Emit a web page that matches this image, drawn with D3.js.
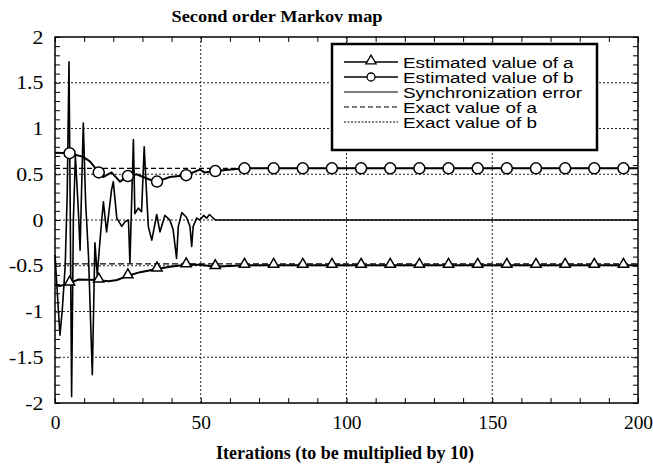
<!DOCTYPE html>
<html>
<head>
<meta charset="utf-8">
<script src="https://cdn.jsdelivr.net/npm/d3@7"></script>
<style>
body { margin: 0; background: #fff; }
</style>
</head>
<body>
<div id="chart"></div>
<script>
const width = 653;
const height = 470;

// x ticks / y ticks
const xMajor = [0, 50, 100, 150, 200];
const yMajor = [-2, -1.5, -1, -0.5, 0, 0.5, 1, 1.5, 2];
const yLabels = ["-2", "-1.5", "-1", "-0.5", "0", "0.5", "1", "1.5", "2"];

// estimated value of a (line + triangle markers)
const estA = [[0,-0.71],[1.7,-0.72],[5,-0.69],[8,-0.65],[14.4,-0.656],[18.4,-0.67],[21.3,-0.656],[25,-0.61],[29.2,-0.57],[35,-0.535],[39.4,-0.51],[45,-0.49],[49.7,-0.49],[55,-0.51],[65,-0.495],[200,-0.495]];
const markA = [[5,-0.69],[15,-0.656],[25,-0.61],[35,-0.535],[45,-0.49],[55,-0.51],[65,-0.495],[75,-0.495],[85,-0.495],[95,-0.495],[105,-0.495],[115,-0.495],[125,-0.495],[135,-0.495],[145,-0.495],[155,-0.495],[165,-0.495],[175,-0.495],[185,-0.495],[195,-0.495]];

// estimated value of b (line + circle markers)
const estB = [[0,0.735],[5,0.73],[9.7,0.69],[12,0.64],[15,0.52],[16.6,0.47],[19.4,0.52],[22.3,0.42],[25,0.48],[28,0.50],[32.6,0.44],[35,0.42],[39.4,0.47],[45,0.49],[49.7,0.55],[51.3,0.52],[55,0.535],[65,0.565],[200,0.565]];
const markB = [[5,0.73],[15,0.52],[25,0.48],[35,0.42],[45,0.49],[55,0.535],[65,0.565],[75,0.565],[85,0.565],[95,0.565],[105,0.565],[115,0.565],[125,0.565],[135,0.565],[145,0.565],[155,0.565],[165,0.565],[175,0.565],[185,0.565],[195,0.565]];

// synchronization error
const syncErr = [[0,-0.38],[1,-0.9],[1.7,-1.26],[2.5,-0.98],[3.5,-0.5],[4.2,0.3],[4.8,1.73],[5.2,0.2],[5.7,-1.93],[6.3,0.0],[7,0.7],[8,0.11],[8.6,-0.33],[9.7,1.06],[10.5,0.2],[11.5,-0.4],[12.8,-1.69],[13.7,-0.25],[14.5,-0.6],[15.5,-0.2],[16.6,0.2],[17.7,-0.13],[19.4,0.33],[20,0.42],[21.2,0.02],[22.9,-0.07],[24,-0.02],[25.2,0],[25.7,-0.47],[26.9,0.88],[27.4,0.07],[28.6,0.13],[29.7,0.09],[30.6,0.8],[32,-0.07],[33.2,-0.22],[34.9,0.06],[36,-0.13],[37.7,0.05],[39.4,0.0],[40.5,-0.1],[41.7,-0.42],[42.3,-0.07],[43.5,0.08],[45.1,0.03],[46.3,-0.07],[46.9,-0.29],[47.4,-0.07],[48.6,0.02],[49.7,0],[51,0.05],[52,0.02],[53,0.06],[54,0.03],[55,0],[200,0]];

// exact values
const exactA = -0.48;
const exactB = 0.565;

const legendItems = ["Estimated value of a", "Estimated value of b", "Synchronization error", "Exact value of a", "Exact value of b"];

const x = d3.scaleLinear().domain([0, 200]).range([55, 638]);
const y = d3.scaleLinear().domain([-2, 2]).range([403, 37]);

const svg = d3.select("#chart").append("svg")
    .attr("width", width)
    .attr("height", height)
    .style("font-family", "'Liberation Serif', 'Times New Roman', serif");

// grid
svg.append("g")
    .selectAll("line")
    .data(xMajor.slice(1, -1))
    .join("line")
    .attr("x1", d => x(d)).attr("x2", d => x(d))
    .attr("y1", y(2)).attr("y2", y(-2))
    .attr("stroke", "#222").attr("stroke-width", 1).attr("stroke-dasharray", "2,2");
svg.append("g")
    .selectAll("line")
    .data(yMajor.slice(1, -1))
    .join("line")
    .attr("x1", x(0)).attr("x2", x(200))
    .attr("y1", d => y(d)).attr("y2", d => y(d))
    .attr("stroke", "#222").attr("stroke-width", 1).attr("stroke-dasharray", "2,2");

// minor ticks inward on all sides
const tk = 5;
svg.append("g").attr("transform", `translate(0,${y(-2)})`)
    .call(d3.axisBottom(x).ticks(20).tickSize(-tk).tickFormat(""))
    .call(g => g.select(".domain").remove());
svg.append("g").attr("transform", `translate(0,${y(2)})`)
    .call(d3.axisTop(x).ticks(20).tickSize(-tk).tickFormat(""))
    .call(g => g.select(".domain").remove());
svg.append("g").attr("transform", `translate(${x(0)},0)`)
    .call(d3.axisLeft(y).ticks(40).tickSize(-tk).tickFormat(""))
    .call(g => g.select(".domain").remove());
svg.append("g").attr("transform", `translate(${x(200)},0)`)
    .call(d3.axisRight(y).ticks(40).tickSize(-tk).tickFormat(""))
    .call(g => g.select(".domain").remove());

// tick labels
svg.append("g").attr("transform", `translate(0,${y(-2)})`)
    .call(d3.axisBottom(x).tickValues(xMajor).tickSize(0).tickPadding(13).tickFormat(d3.format("d")))
    .call(g => g.select(".domain").remove())
    .call(g => g.selectAll("text")
        .attr("font-family", "'Liberation Serif', serif")
        .attr("font-size", 18.5)
        .attr("fill", "#000")
        .attr("transform", "scale(1.05,1)"));
svg.append("g").attr("transform", `translate(${x(0)},0)`)
    .call(d3.axisLeft(y).tickValues(yMajor).tickSize(0).tickPadding(10).tickFormat((d, i) => yLabels[i]))
    .call(g => g.select(".domain").remove())
    .call(g => g.selectAll("text")
        .attr("font-family", "'Liberation Serif', serif")
        .attr("font-size", 19)
        .attr("fill", "#000")
        .attr("transform", "scale(1.15,1)"));

// exact lines
svg.append("line")
    .attr("x1", x(0)).attr("x2", x(200))
    .attr("y1", y(exactA)).attr("y2", y(exactA))
    .attr("stroke", "#000").attr("stroke-width", 1.3).attr("stroke-dasharray", "6,3");
svg.append("line")
    .attr("x1", x(0)).attr("x2", x(200))
    .attr("y1", y(exactB)).attr("y2", y(exactB))
    .attr("stroke", "#000").attr("stroke-width", 1.3).attr("stroke-dasharray", "5,3");

const line = d3.line().x(d => x(d[0])).y(d => y(d[1]));

svg.append("path").datum(syncErr)
    .attr("d", line).attr("fill", "none")
    .attr("stroke", "#000").attr("stroke-width", 1.6).attr("stroke-linejoin", "round");
svg.append("path").datum(estA)
    .attr("d", line).attr("fill", "none")
    .attr("stroke", "#000").attr("stroke-width", 2);
svg.append("path").datum(estB)
    .attr("d", line).attr("fill", "none")
    .attr("stroke", "#000").attr("stroke-width", 2);

const tri = d3.symbol().type(d3.symbolTriangle).size(45);
svg.append("g").selectAll("path")
    .data(markA)
    .join("path")
    .attr("d", tri)
    .attr("transform", d => `translate(${x(d[0])},${y(d[1]) - 1})`)
    .attr("fill", "#fff").attr("stroke", "#000").attr("stroke-width", 1.5);
svg.append("g").selectAll("circle")
    .data(markB)
    .join("circle")
    .attr("cx", d => x(d[0])).attr("cy", d => y(d[1]))
    .attr("r", 5.5)
    .attr("fill", "#fff").attr("stroke", "#000").attr("stroke-width", 1.5);

// frame
svg.append("rect")
    .attr("x", x(0)).attr("y", y(2))
    .attr("width", x(200) - x(0)).attr("height", y(-2) - y(2))
    .attr("fill", "none").attr("stroke", "#000").attr("stroke-width", 1.5);

// legend
const lg = svg.append("g").attr("transform", "translate(332,44)");
lg.append("rect")
    .attr("width", 265).attr("height", 106)
    .attr("fill", "#fff").attr("stroke", "#000").attr("stroke-width", 2.5);
const rowH = 15;
const items = lg.selectAll("g.item")
    .data(legendItems)
    .join("g")
    .attr("class", "item")
    .attr("transform", (d, i) => `translate(0,${18 + i * rowH})`);
items.append("line")
    .attr("x1", 12).attr("x2", 66)
    .attr("stroke", "#000")
    .attr("stroke-width", (d, i) => i < 2 ? 1.5 : 1.2)
    .attr("stroke-dasharray", (d, i) => i === 3 ? "5,3" : i === 4 ? "2,1.5" : null);
items.filter((d, i) => i === 0).append("path")
    .attr("d", tri).attr("transform", "translate(39,-1)")
    .attr("fill", "#fff").attr("stroke", "#000").attr("stroke-width", 1.3);
items.filter((d, i) => i === 1).append("circle")
    .attr("cx", 39).attr("r", 4)
    .attr("fill", "#fff").attr("stroke", "#000").attr("stroke-width", 1.3);
items.append("text")
    .attr("x", 0).attr("y", 5.5)
    .attr("transform", "translate(71,0) scale(1.3,1)")
    .attr("font-family", "'Liberation Sans', Arial, sans-serif")
    .attr("font-size", 14.5)
    .text(d => d);

// titles
svg.append("text")
    .attr("x", 277).attr("y", 22)
    .attr("text-anchor", "middle")
    .attr("font-weight", "bold")
    .attr("font-size", 17)
    .attr("textLength", 211)
    .attr("lengthAdjust", "spacingAndGlyphs")
    .text("Second order Markov map");
svg.append("text")
    .attr("x", 345).attr("y", 459)
    .attr("text-anchor", "middle")
    .attr("font-weight", "bold")
    .attr("font-size", 18)
    .attr("textLength", 258)
    .attr("lengthAdjust", "spacingAndGlyphs")
    .text("Iterations (to be multiplied by 10)");
</script>
</body>
</html>
